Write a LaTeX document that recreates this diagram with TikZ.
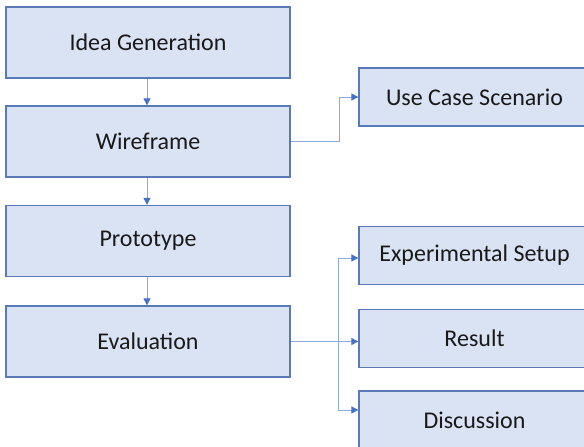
\documentclass[tikz,border=0pt]{standalone}
\usepackage{fontspec}
\setmainfont{Carlito}
\usetikzlibrary{arrows.meta}
\definecolor{boxfill}{HTML}{DAE3F3}
\definecolor{boxline}{HTML}{5A7AB5}
\definecolor{conn}{HTML}{8FA9D8}
\definecolor{tipc}{HTML}{4472C4}
\begin{document}
\begin{tikzpicture}[x=1pt,y=-1pt,
  stepbox/.style={draw=boxline,fill=boxfill,line width=1.3pt,rectangle,inner sep=0pt,
    minimum width=284pt,minimum height=71pt,font=\fontsize{24}{28}\selectfont,text=black!90},
  sidebox/.style={draw=boxline,fill=boxfill,line width=1.3pt,rectangle,inner sep=0pt,
    minimum width=231pt,minimum height=58pt,font=\fontsize{24}{28}\selectfont,text=black!90},
  link/.style={draw=conn,line width=0.9pt,-{Triangle[length=7pt,width=7pt,color=tipc]}}]
\useasboundingbox (0,0) rectangle (584,447);
\fill[white] (0,0) rectangle (584,447);
\node[stepbox] (idea) at (148,42.5) {Idea Generation};
\node[stepbox] (wire) at (148,141.5) {Wireframe};
\node[stepbox] (proto) at (148,241) {Prototype};
\node[stepbox] (eval) at (148,341.5) {Evaluation};
\node[sidebox] (use) at (474.5,97) {Use Case Scenario};
\node[sidebox] (exp) at (474.5,255.5) {Experimental Setup};
\node[sidebox] (res) at (474.5,338.5) {Result};
\node[sidebox] (disc) at (474.5,420) {Discussion};
\coordinate (wbend) at (339,141);
\coordinate (split) at (338,341.5);
\draw[link] (idea.south -| 147,0) -- (wire.north -| 147,0);
\draw[link] (wire.south -| 147,0) -- (proto.north -| 147,0);
\draw[link] (proto.south -| 147,0) -- (eval.north -| 147,0);
\draw[link] (wire.east |- wbend) -- (wbend) |- (use.west);
\draw[link] (eval.east) -- (res.west |- eval.east);
\draw[link] (split) |- ([yshift=-2.5pt]exp.west);
\draw[link] (split) |- ([yshift=10pt]disc.west);
\end{tikzpicture}
\end{document}
